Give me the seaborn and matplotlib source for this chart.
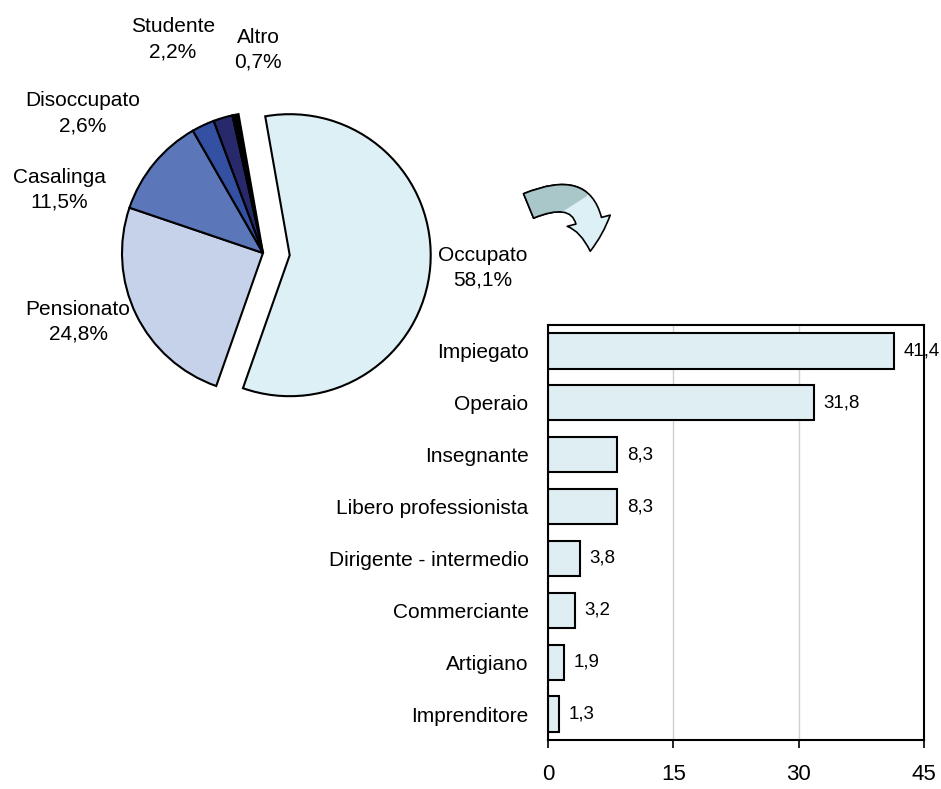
import numpy as np
import pandas as pd
import matplotlib.pyplot as plt
import seaborn as sns
from matplotlib.patches import FancyArrowPatch, Polygon

# pie data (condizione professionale)
pie_labels = ["Occupato", "Pensionato", "Casalinga", "Disoccupato", "Studente", "Altro"]
pie_values = [58.1, 24.8, 11.5, 2.6, 2.2, 0.7]
pie_colors = ["#DCF0F6", "#C6D2EA", "#5B76B9", "#3350A3", "#27296B", "#000000"]

# bar data (tipo di occupazione)
bar_labels = ["Impiegato", "Operaio", "Insegnante", "Libero professionista",
              "Dirigente - intermedio", "Commerciante", "Artigiano", "Imprenditore"]
bar_values = [41.4, 31.8, 8.3, 8.3, 3.8, 3.2, 1.9, 1.3]
x_ticks = [0, 15, 30, 45]

sns.set_style("white")
plt.rcParams["font.family"] = ["Liberation Sans", "DejaVu Sans"]
plt.rcParams["text.color"] = "black"
plt.rcParams["xtick.color"] = "black"
plt.rcParams["ytick.color"] = "black"
FS = 15

W, H = 941, 789
fig = plt.figure(figsize=(W / 100, H / 100), dpi=100)

# ---- pie ----
R = 141.0  # radius in px
cx, cy = 263, 253
ax1 = fig.add_axes([0, 1 - 500 / H, 500 / W, 500 / H])
ax1.pie(pie_values, colors=pie_colors, startangle=100, counterclock=False,
        explode=[0.19, 0, 0, 0, 0, 0],
        wedgeprops=dict(edgecolor="black", linewidth=1.5))
ax1.set_xlim(-cx / R, (500 - cx) / R)
ax1.set_ylim(-(500 - cy) / R, cy / R)
ax1.set_aspect("equal")
ax1.axis("off")

label_pos = {
    "Occupato": (483, 268),
    "Pensionato": (78, 322),
    "Casalinga": (59, 190),
    "Disoccupato": (83, 113),
    "Studente": (173, 39),
    "Altro": (258, 50),
}
for lab, val in zip(pie_labels, pie_values):
    px, py = label_pos[lab]
    txt = lab + "\n" + f"{val:.1f}".replace(".", ",") + "%"
    fig.text(px / W, 1 - py / H, txt, ha="center", va="center",
             fontsize=FS, linespacing=1.4)

# ---- bar ----
ax2 = fig.add_axes([548 / W, 1 - 740 / H, (924 - 548) / W, (740 - 325) / H])
df = pd.DataFrame({"cat": bar_labels, "val": bar_values})
sns.barplot(data=df, x="val", y="cat", ax=ax2, color="#DCF0F6",
            edgecolor="black", linewidth=1.5, width=0.68, orient="h")
ax2.set_xlim(0, 45)
ax2.set_xticks(x_ticks)
ax2.xaxis.grid(True, color="#D0D0D0", linewidth=1)
ax2.set_axisbelow(True)
for s in ax2.spines.values():
    s.set_color("black")
    s.set_linewidth(1.5)
    s.set_visible(True)
ax2.set_xlabel("")
ax2.set_ylabel("")
ax2.tick_params(axis="y", length=0, pad=14, labelsize=FS)
ax2.tick_params(axis="x", length=6, width=1.2, direction="out", pad=11,
                labelsize=FS + 1, bottom=True)
for c in ax2.containers:
    ax2.bar_label(c, labels=[f"{v:.1f}".replace(".", ",") for v in bar_values],
                  padding=7, fontsize=FS - 1.5)


def fpt(x, y):
    return (x / W, 1 - y / H)


# ---- curved arrow: light, with darker tail (same arrow clipped) ----
for fc, clip in [("#DCF0F6", False), ("#A9C6C8", True)]:
    arr = FancyArrowPatch(fpt(526, 207), fpt(590, 254),
                          transform=fig.transFigure,
                          connectionstyle="arc3,rad=-0.85",
                          arrowstyle="simple,head_length=1.1,head_width=1.6,tail_width=0.95",
                          mutation_scale=20, facecolor=fc,
                          edgecolor="black", linewidth=1.2)
    fig.patches.append(arr)
    if clip:
        region = Polygon([fpt(0, 0), fpt(587, 0), fpt(587, 196), fpt(562, 212),
                          fpt(562, 300), fpt(0, 300)],
                         closed=True, transform=fig.transFigure)
        arr.set_clip_path(region)

fig.savefig("out.png", dpi=100)
